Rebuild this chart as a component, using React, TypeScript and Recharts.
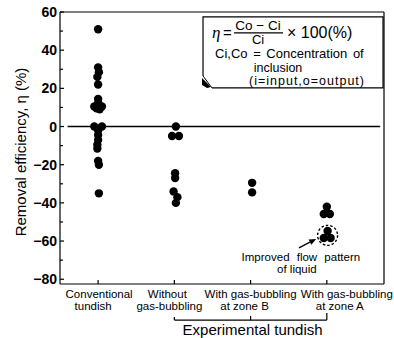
import React from 'react';
import {
  ScatterChart,
  Scatter,
  XAxis,
  YAxis,
  ReferenceLine,
  ReferenceDot,
} from 'recharts';

// 카테고리 (x축 위치 1..4)
const categoryTicks = [1, 2, 3, 4];
const categoryLabels = [
  ['Conventional', 'tundish'],
  ['Without', 'gas-bubbling'],
  ['With gas-bubbling', 'at zone B'],
  ['With gas-bubbling', 'at zone A'],
];

// y축 눈금 (라벨은 20 단위)
const yTicks = [-80, -70, -60, -50, -40, -30, -20, -10, 0, 10, 20, 30, 40, 50, 60];

// 측정값 (Removal efficiency, %)
const conventional = [
  { x: 1, y: 51 }, { x: 1, y: 31 }, { x: 1.01, y: 28.5 }, { x: 0.99, y: 26 },
  { x: 1, y: 22 }, { x: 1, y: 14.5 }, { x: 1, y: 12.5 }, { x: 0.95, y: 10.5 },
  { x: 1.05, y: 10.5 }, { x: 1.02, y: 9 }, { x: 0.98, y: 9.5 }, { x: 0.95, y: 0 },
  { x: 1.05, y: 0 }, { x: 1, y: -2 }, { x: 1, y: -4.5 }, { x: 1, y: -7 },
  { x: 0.99, y: -9.5 }, { x: 0.99, y: -11.5 }, { x: 1, y: -18 }, { x: 1.01, y: -20 },
  { x: 1.01, y: -35 },
];
const withoutBubbling = [
  { x: 2.02, y: 0 }, { x: 1.97, y: -5 }, { x: 2.06, y: -5 }, { x: 2.01, y: -24.5 },
  { x: 2.01, y: -27 }, { x: 1.99, y: -34 }, { x: 2.04, y: -37 }, { x: 2.02, y: -40 },
];
const zoneB = [{ x: 3.02, y: -29.5 }, { x: 3.02, y: -34.5 }];
const zoneA = [{ x: 4, y: -42 }, { x: 3.96, y: -45.8 }, { x: 4.04, y: -45.8 }];
const zoneAImproved = [{ x: 4.01, y: -54.7 }, { x: 3.96, y: -58.4 }, { x: 4.05, y: -58.4 }];
const improvedCenter = { x: 4.01, y: -57 };

// 라벨 위치 보정 (px)
const labelShift = [[1, -5], [-7, -5], [0, -6], [20, 13]];

const FONT = '"Liberation Sans", Arial, Helvetica, sans-serif';
const INK = '#000';

const fmt = (v: number) => (v < 0 ? `\u2212${-v}` : `${v}`);

const dot = (p: any) => <circle cx={p.cx} cy={p.cy} r={4.2} fill={INK} />;

const LeftTick = (p: any) => {
  const v = p.payload.value;
  const major = v % 20 === 0;
  return (
    <g>
      <line x1={p.x} x2={p.x + (major ? 4 : 3)} y1={p.y} y2={p.y} stroke={INK} strokeWidth={1.2} />
      {major && (
        <text x={p.x - 3} y={p.y + 5} textAnchor="end" fontSize={14} fontWeight="bold" fontFamily={FONT} fill={INK}>
          {fmt(v)}
        </text>
      )}
    </g>
  );
};

const RightTick = (p: any) => (
  <line x1={p.x} x2={p.x - 3} y1={p.y} y2={p.y} stroke={INK} strokeWidth={1.2} />
);

const BottomTick = (p: any) => {
  const i = categoryTicks.indexOf(p.payload.value);
  const [l1, l2] = categoryLabels[i] || ['', ''];
  const [d1, d2] = labelShift[i] || [0, 0];
  return (
    <g fontFamily={FONT} fontSize={11.5} fill={INK}>
      <line x1={p.x} x2={p.x} y1={p.y} y2={p.y - 4} stroke={INK} strokeWidth={1.2} />
      <text x={p.x + d1} y={p.y + 13.5} textAnchor="middle">{l1}</text>
      <text x={p.x + d2} y={p.y + 25.5} textAnchor="middle">{l2}</text>
    </g>
  );
};

const YLabel = (props: any) => {
  const vb = props.viewBox || { x: 0, y: 0, width: 60, height: 272 };
  const x = vb.x + 26;
  const y = vb.y + vb.height / 2 + 4;
  return (
    <text x={x} y={y} transform={`rotate(-90 ${x} ${y})`} textAnchor="middle" fontSize={15} fontFamily={FONT} fill={INK}>
      Removal efficiency, η (%)
    </text>
  );
};

// 정의식 박스
const NoteBox = (p: any) => {
  const x = p.cx;
  const y = p.cy;
  return (
    <g fontFamily={FONT} fill={INK}>
      <path d={`M${x},${y + 59} V${y} H${x + 180} V${y + 71} H${x + 9}`} fill="none" stroke={INK} strokeWidth={1.2} />
      <path d={`M${x},${y + 59} L${x + 9},${y + 71}`} fill="none" stroke={INK} strokeWidth={1} />
      <path d={`M${x - 1},${y + 61} L${x + 8},${y + 70} L${x + 4},${y + 71} L${x - 1},${y + 68} Z`} fill={INK} />
      <text x={x + 9} y={y + 21} fontSize={17} fontStyle="italic" fontFamily='"Liberation Serif", serif'>η</text>
      <text x={x + 20} y={y + 21} fontSize={15}>=</text>
      <text x={x + 55} y={y + 13} fontSize={13.5} textAnchor="middle">Co − Ci</text>
      <line x1={x + 31} x2={x + 80} y1={y + 16} y2={y + 16} stroke={INK} strokeWidth={1.2} />
      <text x={x + 55} y={y + 27} fontSize={13} textAnchor="middle">Ci</text>
      <text x={x + 84} y={y + 21} fontSize={16}>× 100(%)</text>
      <text x={x + 12} y={y + 41} fontSize={13} wordSpacing={2}>Ci,Co = Concentration of</text>
      <text x={x + 75} y={y + 55} fontSize={12.5} textAnchor="middle">inclusion</text>
      <text x={x + 104} y={y + 68} fontSize={12.5} textAnchor="middle" letterSpacing={1}>(i=input,o=output)</text>
    </g>
  );
};

const Arrow = (p: any) => {
  const { x1, y1, x2, y2 } = p;
  const a = Math.atan2(y2 - y1, x2 - x1);
  const L = 7;
  const W = 3;
  const bx = x2 - L * Math.cos(a);
  const by = y2 - L * Math.sin(a);
  const nx = -Math.sin(a) * W;
  const ny = Math.cos(a) * W;
  return (
    <g>
      <line x1={x1} y1={y1} x2={bx} y2={by} stroke={INK} strokeWidth={1.3} />
      <path d={`M${x2},${y2} L${bx + nx},${by + ny} L${bx - nx},${by - ny} Z`} fill={INK} />
    </g>
  );
};

const ImprovedText = (p: any) => (
  <g fontFamily={FONT} fontSize={11.5} fill={INK}>
    <text x={p.cx} y={p.cy + 8} textAnchor="middle" wordSpacing={4}>Improved flow pattern</text>
    <text x={p.cx - 4} y={p.cy + 20.5} textAnchor="middle">of liquid</text>
  </g>
);

const GroupText = (p: any) => (
  <text x={p.cx + 2} y={p.cy + 15} textAnchor="middle" fontFamily={FONT} fontSize={15} fill={INK}>
    Experimental tundish
  </text>
);

const bracketY = -101.4;

export default function App() {
  return (
    <div style={{ position: 'absolute', left: 0, top: 0, width: 394, height: 338, background: '#fff' }}>
      <ScatterChart width={394} height={338} margin={{ top: 12, right: 0, bottom: 0, left: 0 }}>
        <XAxis
          dataKey="x"
          type="number"
          domain={[0.5, 4.75]}
          ticks={categoryTicks}
          interval={0}
          height={54}
          tickSize={0}
          tickMargin={0}
          tickLine={false}
          axisLine={{ stroke: INK, strokeWidth: 1.2 }}
          tick={BottomTick}
        />
        <YAxis
          dataKey="y"
          type="number"
          domain={[-82.5, 60]}
          ticks={yTicks}
          interval={0}
          width={60}
          tickSize={0}
          tickMargin={0}
          tickLine={false}
          axisLine={{ stroke: INK, strokeWidth: 1.2 }}
          tick={LeftTick}
          label={YLabel}
        />
        <YAxis
          yAxisId="r"
          orientation="right"
          type="number"
          domain={[-82.5, 60]}
          ticks={yTicks}
          interval={0}
          width={10}
          tickSize={0}
          tickMargin={0}
          tickLine={false}
          axisLine={{ stroke: INK, strokeWidth: 1.2 }}
          tick={RightTick}
        />

        {/* 테두리 상단, 0 기준선 */}
        <ReferenceLine y={60} stroke={INK} strokeWidth={1.2} />
        <ReferenceLine segment={[{ x: 0.6, y: 0 }, { x: 4.7, y: 0 }]} stroke={INK} strokeWidth={1.6} />

        <Scatter data={conventional} shape={dot} isAnimationActive={false} />
        <Scatter data={withoutBubbling} shape={dot} isAnimationActive={false} />
        <Scatter data={zoneB} shape={dot} isAnimationActive={false} />
        <Scatter data={zoneA} shape={dot} isAnimationActive={false} />
        <Scatter data={zoneAImproved} shape={dot} isAnimationActive={false} />

        <ReferenceDot
          x={improvedCenter.x}
          y={improvedCenter.y}
          r={10}
          fill="none"
          stroke={INK}
          strokeWidth={1.4}
          strokeDasharray="2.5 2"
        />
        <ReferenceLine segment={[{ x: 3.635, y: -63.6 }, { x: 3.86, y: -58.9 }]} shape={Arrow} />
        <ReferenceDot x={3.66} y={-66} r={0} shape={ImprovedText} />

        <ReferenceDot x={2.376} y={57.4} r={0} shape={NoteBox} />

        {/* Experimental tundish 괄호 */}
        <ReferenceLine ifOverflow="visible" segment={[{ x: 2, y: bracketY }, { x: 4, y: bracketY }]} stroke={INK} strokeWidth={1.2} />
        <ReferenceLine ifOverflow="visible" segment={[{ x: 2, y: bracketY }, { x: 2, y: bracketY + 1.6 }]} stroke={INK} strokeWidth={1.2} />
        <ReferenceLine ifOverflow="visible" segment={[{ x: 3, y: bracketY }, { x: 3, y: bracketY + 2.1 }]} stroke={INK} strokeWidth={1.2} />
        <ReferenceLine ifOverflow="visible" segment={[{ x: 4, y: bracketY }, { x: 4, y: bracketY + 3.7 }]} stroke={INK} strokeWidth={1.2} />
        <ReferenceDot ifOverflow="visible" x={3} y={bracketY} r={0} shape={GroupText} />
      </ScatterChart>
    </div>
  );
}
